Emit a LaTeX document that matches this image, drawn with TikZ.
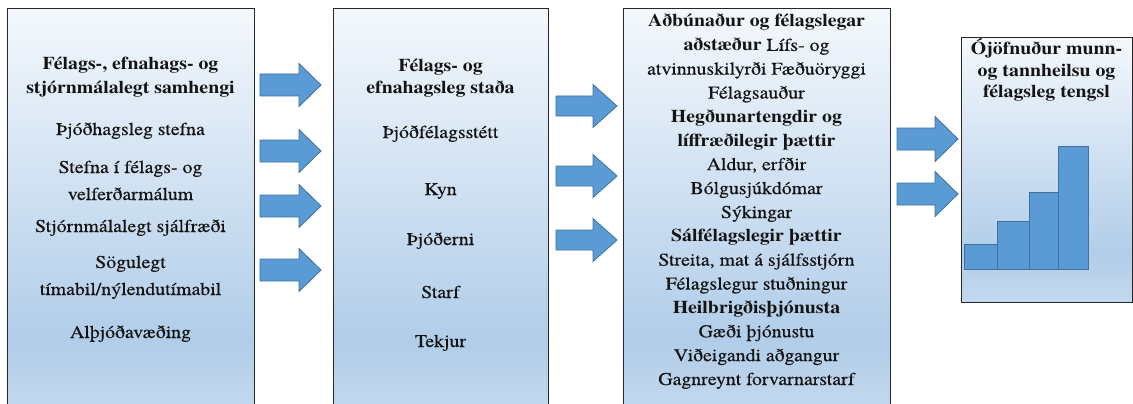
\documentclass[tikz,border=0pt]{standalone}
\usepackage{fontspec}
\setmainfont{TeX Gyre Termes}[FakeStretch=1.1, UprightFeatures={FakeBold=0.3}]
\definecolor{arrfill}{HTML}{5B9BD5}
\definecolor{arrline}{HTML}{41719C}
\definecolor{shtop}{HTML}{F4F8FC}
\definecolor{shdark}{HTML}{B1CDE9}
\definecolor{shbot}{HTML}{C4D9EE}
\definecolor{txt}{HTML}{141414}
\definecolor{frame}{HTML}{262626}
\pgfdeclareverticalshading{boxshade}{100bp}{color(0bp)=(shbot); color(25bp)=(shbot); color(34bp)=(shdark); color(75bp)=(shtop); color(100bp)=(shtop)}
\tikzset{
  panel/.style={draw=frame, line width=1.2pt, shading=boxshade, inner sep=0, anchor=north west},
  tl/.style={anchor=base, font=\rmfamily\fontsize{18}{23}\selectfont, text=txt, inner sep=0},
  arrstyle/.style={draw=arrline, fill=arrfill, line width=0.8pt, line join=miter},
  pics/barr/.style args={#1/#2/#3/#4}{code={
    \draw[arrstyle] (0,-#3/2) -- (#1,-#3/2) -- (#1,-#4/2) -- (#2,0) -- (#1,#4/2) -- (#1,#3/2) -- (0,#3/2) -- cycle;}},
  bar/.style={draw=arrline, fill=arrfill, line width=0.8pt}
}
\begin{document}
\begin{tikzpicture}[x=1pt,y=-1pt]
\useasboundingbox (0,0) rectangle (1133,404);
\clip (0,0) rectangle (1133,404);
% panels
\node[panel, minimum width=247pt, minimum height=404pt] (b1) at (7,8) {};
\node[panel, minimum width=215pt, minimum height=404pt] (b2) at (333,8) {};
\node[panel, minimum width=267pt, minimum height=404pt] (b3) at (623,8) {};
\node[panel, minimum width=171pt, minimum height=265pt] (b4) at (961,37) {};
% box 1 text
\foreach \y/\t [count=\i] in {
  70/{\bfseries Félags-, efnahags- og},
  93/{\bfseries stjórnmálalegt samhengi},
  135/{Þjóðhagsleg stefna},
  173/{Stefna í félags- og},
  200/{velferðarmálum},
  232/{Stjórnmálalegt sjálfræði},
  268/{Sögulegt},
  295/{tímabil/nýlendutímabil},
  338/{Alþjóðavæðing}}
  \node[tl] (b1l\i) at (130.5,\y) {\t};
% box 2 text
\foreach \y/\t [count=\i] in {
  72/{\bfseries Félags- og},
  93/{\bfseries efnahagsleg staða},
  138/{Þjóðfélagsstétt},
  195/{Kyn},
  245/{Þjóðerni},
  298/{Starf},
  347/{Tekjur}}
  \node[tl] (b2l\i) at (440.5,\y) {\t};
% box 3 text
\foreach \y/\t [count=\i] in {
  27/{\bfseries Aðbúnaður og félagslegar},
  50.9/{\textbf{aðstæður} Lífs- og},
  74.7/{atvinnuskilyrði Fæðuöryggi},
  98.6/{Félagsauður},
  122.5/{\bfseries Hegðunartengdir og},
  146.4/{\bfseries líffræðilegir þættir},
  170.2/{Aldur, erfðir},
  194.1/{Bólgusjúkdómar},
  218/{Sýkingar},
  241.8/{\bfseries Sálfélagslegir þættir},
  265.7/{Streita, mat á sjálfsstjórn},
  289.6/{Félagslegur stuðningur},
  313.4/{\bfseries Heilbrigðisþjónusta},
  337.3/{Gæði þjónustu},
  361.2/{Viðeigandi aðgangur},
  385/{Gagnreynt forvarnarstarf}}
  \node[tl] (b3l\i) at (756.5,\y) {\t};
% box 4 text
\foreach \y/\t [count=\i] in {
  55/{Ójöfnuður munn-},
  77/{og tannheilsu og},
  98/{félagsleg tengsl}}
  \node[tl, font=\rmfamily\fontsize{18}{22}\selectfont\bfseries] (b4l\i) at (1046.5,\y) {\t};
% arrows between box 1 and box 2
\foreach \y [count=\i] in {85,151,206,270}
  \pic (a1\i) at (260,\y) {barr={39/61/22/43}};
% arrows between box 2 and box 3
\foreach \y [count=\i] in {106,176,240}
  \pic (a2\i) at (556,\y) {barr={37/61/20/43}};
% arrows between box 3 and box 4
\foreach \y [count=\i] in {139,194}
  \pic (a3\i) at (897,\y) {barr={38/61/22/45}};
% bars
\draw[bar] (964,269) rectangle (997,244);
\draw[bar] (997,269) rectangle (1029,221);
\draw[bar] (1029,269) rectangle (1058,192);
\draw[bar] (1058,269) rectangle (1088,146);
\end{tikzpicture}
\end{document}
